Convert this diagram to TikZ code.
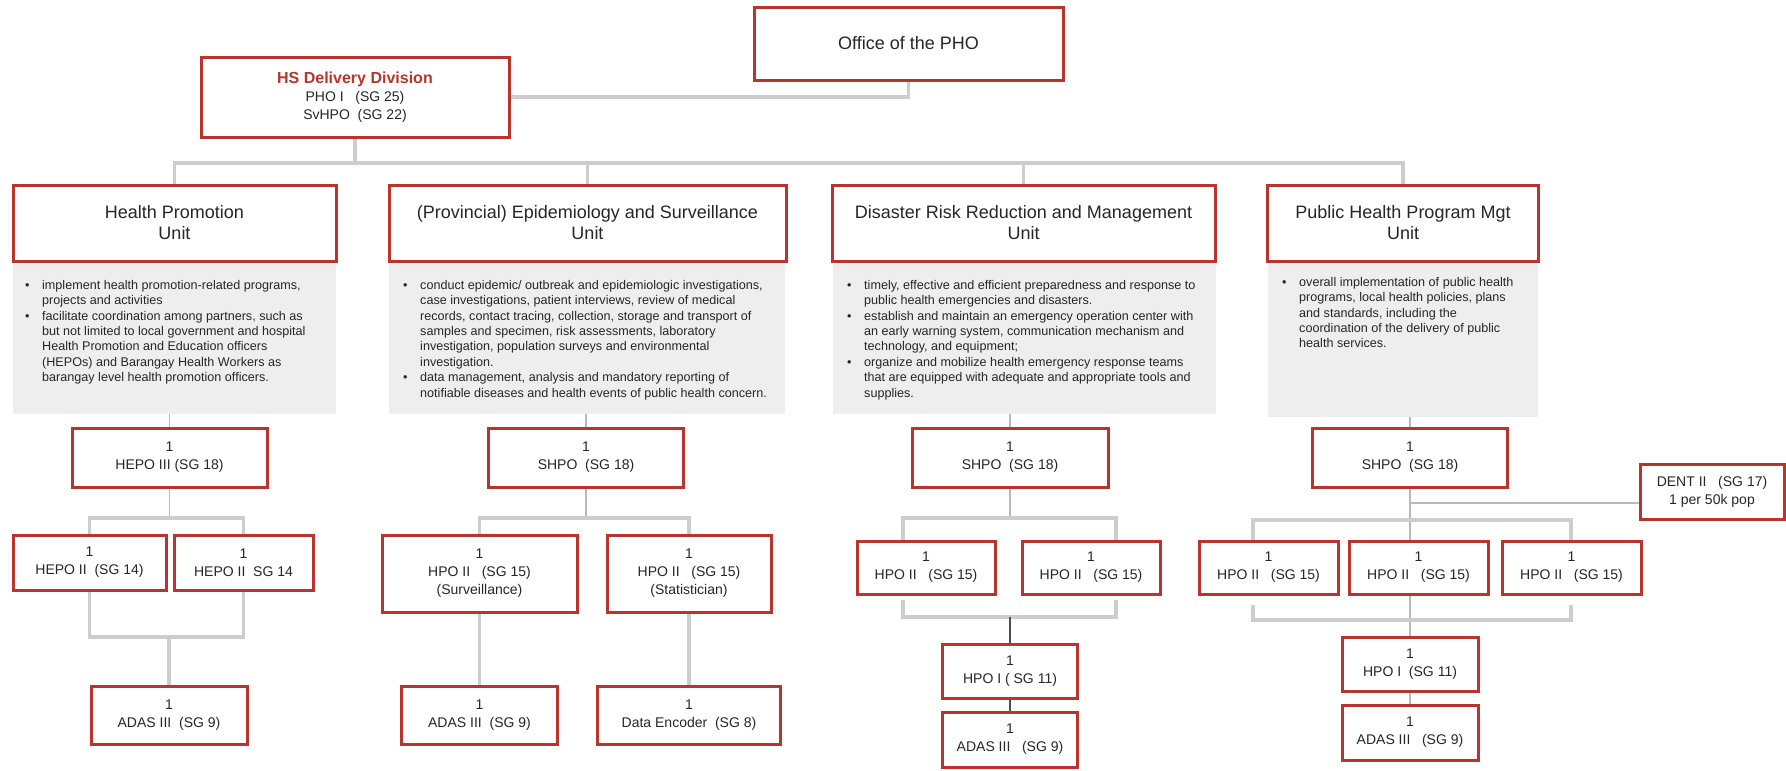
\documentclass[tikz,border=0pt]{standalone}
\usepackage{fontspec}
\setmainfont{Liberation Sans}
\usetikzlibrary{backgrounds}

\definecolor{boxred}{RGB}{184,52,44}
\definecolor{linegray}{RGB}{205,205,205}
\definecolor{thingray}{RGB}{185,185,185}
\definecolor{descfill}{RGB}{238,238,238}
\definecolor{inkc}{RGB}{38,38,38}

% bullet and hanging indent for the duty lists
\newcommand{\dutybullet}{\makebox[17pt][l]{\textbullet}}
\newcommand{\dutycont}{\hspace*{17pt}}

\begin{document}
\begin{tikzpicture}[x=1pt,y=-1pt,
  redbox/.style={draw=boxred, line width=3pt, fill=white, align=center,
    inner sep=0pt, text=inkc},
  bigtext/.style={font=\fontsize{18}{21}\selectfont},
  smalltext/.style={font=\fontsize{14}{18}\selectfont},
  descbox/.style={fill=descfill, inner sep=0pt, anchor=north west},
  desctext/.style={anchor=north west, inner sep=0pt, align=left, text=inkc,
    font=\fontsize{12.6}{15.4}\selectfont},
  trunk/.style={draw=linegray, line width=3.5pt},
  twig/.style={draw=thingray, line width=1.2pt},
  darktwig/.style={draw=black!70, line width=1.2pt}
]
\useasboundingbox (0,0) rectangle (1786,771);

% ---- top level
\node[redbox, bigtext, minimum width=309pt, minimum height=73pt] (office) at (908.5,43.5) {Office of the PHO};
\node[redbox, smalltext, minimum width=308pt, minimum height=80pt] (hs) at (355,97)
  {{\fontsize{16}{18}\selectfont\bfseries\color{boxred}HS Delivery Division}\\PHO I~~~(SG 25)\\SvHPO~~(SG 22)};

% ---- units
\node[redbox, bigtext, minimum width=323pt, minimum height=76pt] (u1) at (174.5,223) {Health Promotion\\Unit};
\node[redbox, bigtext, minimum width=397pt, minimum height=76pt] (u2) at (587.5,223) {(Provincial) Epidemiology and Surveillance\\Unit};
\node[redbox, bigtext, minimum width=383pt, minimum height=76pt] (u3) at (1023.5,223) {Disaster Risk Reduction and Management\\Unit};
\node[redbox, bigtext, minimum width=271pt, minimum height=76pt] (u4) at (1403,223) {Public Health Program Mgt\\Unit};

% ---- duty panels
\node[descbox, minimum width=323pt, minimum height=151pt] (g1) at (13,263) {};
\node[descbox, minimum width=396pt, minimum height=151pt] (g2) at (389,263) {};
\node[descbox, minimum width=383pt, minimum height=151pt] (g3) at (833,263) {};
\node[descbox, minimum width=270pt, minimum height=154pt] (g4) at (1268,263) {};

\node[desctext] (t1) at (25,280) {%
\dutybullet implement health promotion-related programs,\\
\dutycont projects and activities\\
\dutybullet facilitate coordination among partners, such as\\
\dutycont but not limited to local government and hospital\\
\dutycont Health Promotion and Education officers\\
\dutycont (HEPOs) and Barangay Health Workers as\\
\dutycont barangay level health promotion officers.};

\node[desctext] (t2) at (403,280) {%
\dutybullet conduct epidemic/ outbreak and epidemiologic investigations,\\
\dutycont case investigations, patient interviews, review of medical\\
\dutycont records, contact tracing, collection, storage and transport of\\
\dutycont samples and specimen, risk assessments, laboratory\\
\dutycont investigation, population surveys and environmental\\
\dutycont investigation.\\
\dutybullet data management, analysis and mandatory reporting of\\
\dutycont notifiable diseases and health events of public health concern.};

\node[desctext] (t3) at (847,280) {%
\dutybullet timely, effective and efficient preparedness and response to\\
\dutycont public health emergencies and disasters.\\
\dutybullet establish and maintain an emergency operation center with\\
\dutycont an early warning system, communication mechanism and\\
\dutycont technology, and equipment;\\
\dutybullet organize and mobilize health emergency response teams\\
\dutycont that are equipped with adequate and appropriate tools and\\
\dutycont supplies.};

\node[desctext] (t4) at (1282,277) {%
\dutybullet overall implementation of public health\\
\dutycont programs, local health policies, plans\\
\dutycont and standards, including the\\
\dutycont coordination of the delivery of public\\
\dutycont health services.};

% ---- Health Promotion staff
\node[redbox, smalltext, minimum width=195pt, minimum height=59pt] (b1) at (169.5,457.5) {1\\HEPO III (SG 18)};
\node[redbox, smalltext, minimum width=153pt, minimum height=55pt] (b2) at (89.5,562.5) {1\\HEPO II~~(SG 14)};
\node[redbox, smalltext, minimum width=139pt, minimum height=55pt] (b3) at (243.5,562.5) {1\\HEPO II~~SG 14};
\node[redbox, smalltext, minimum width=156pt, minimum height=58pt] (b4) at (169,715) {1\\ADAS III~~(SG 9)};

% ---- Epidemiology staff
\node[redbox, smalltext, minimum width=195pt, minimum height=59pt] (b5) at (586,457.5) {1\\SHPO~~(SG 18)};
\node[redbox, smalltext, minimum width=195pt, minimum height=77pt] (b6) at (479.5,573.5) {1\\HPO II~~~(SG 15)\\(Surveillance)};
\node[redbox, smalltext, minimum width=164pt, minimum height=77pt] (b7) at (689,573.5) {1\\HPO II~~~(SG 15)\\(Statistician)};
\node[redbox, smalltext, minimum width=156pt, minimum height=58pt] (b8) at (479.5,715) {1\\ADAS III~~(SG 9)};
\node[redbox, smalltext, minimum width=183pt, minimum height=58pt] (b9) at (689,715) {1\\Data Encoder~~(SG 8)};

% ---- DRRM staff
\node[redbox, smalltext, minimum width=196pt, minimum height=59pt] (b10) at (1010,457.5) {1\\SHPO~~(SG 18)};
\node[redbox, smalltext, minimum width=138pt, minimum height=53pt] (b11) at (926,567.5) {1\\HPO II~~~(SG 15)};
\node[redbox, smalltext, minimum width=138pt, minimum height=53pt] (b12) at (1091,567.5) {1\\HPO II~~~(SG 15)};
\node[redbox, smalltext, minimum width=135pt, minimum height=54pt] (b13) at (1010,671) {1\\HPO I ( SG 11)};
\node[redbox, smalltext, minimum width=135pt, minimum height=55pt] (b14) at (1010,739.5) {1\\ADAS III~~~(SG 9)};

% ---- Public Health Program Mgt staff
\node[redbox, smalltext, minimum width=195pt, minimum height=59pt] (b15) at (1410,457.5) {1\\SHPO~~(SG 18)};
\node[redbox, smalltext, minimum width=144pt, minimum height=55pt] (b16) at (1712,491.5) {DENT II~~~(SG 17)\\1 per 50k pop};
\node[redbox, smalltext, minimum width=139pt, minimum height=53pt] (b17) at (1268.5,567.5) {1\\HPO II~~~(SG 15)};
\node[redbox, smalltext, minimum width=139pt, minimum height=53pt] (b18) at (1418.5,567.5) {1\\HPO II~~~(SG 15)};
\node[redbox, smalltext, minimum width=139pt, minimum height=53pt] (b19) at (1571.5,567.5) {1\\HPO II~~~(SG 15)};
\node[redbox, smalltext, minimum width=136pt, minimum height=54pt] (b20) at (1410,664) {1\\HPO I~~(SG 11)};
\node[redbox, smalltext, minimum width=136pt, minimum height=55pt] (b21) at (1410,732.5) {1\\ADAS III~~~(SG 9)};

% ---- rows and columns used by the connectors
\coordinate (busy) at (0,163);
\coordinate (rowA) at (0,518);
\coordinate (rowB) at (0,637);
\coordinate (dgap) at (0,600);
\coordinate (dlow) at (0,617);
\coordinate (d1) at (903,0);
\coordinate (d2) at (1116,0);
\coordinate (dentrow) at (0,503);
\coordinate (prow) at (0,520);
\coordinate (pgap) at (0,605);
\coordinate (plow) at (0,620);
\coordinate (p1) at (1253,0);
\coordinate (p2) at (1571,0);

\begin{scope}[on background layer]
  % division to office and to the unit bus
  \draw[trunk] (hs.east) -- (hs.east -| office.south) -- (office.south);
  \draw[trunk] (hs.south) -- (hs.south |- busy);
  \draw[trunk] (u1.north) -- (u1.north |- busy) -- (u4.north |- busy) -- (u4.north);
  \draw[trunk] (u2.north |- busy) -- (u2.north);
  \draw[trunk] (u3.north |- busy) -- (u3.north);

  % duty panels to unit heads
  \draw[twig] (b1.north |- g1.south) -- (b1.north);
  \draw[twig] (b5.north |- g2.south) -- (b5.north);
  \draw[twig] (b10.north |- g3.south) -- (b10.north);
  \draw[twig] (b15.north |- g4.south) -- (b15.north);

  % Health Promotion
  \draw[twig] (b1.south) -- (b1.south |- rowA);
  \draw[trunk] (b2.north) -- (b2.north |- rowA) -- (b3.north |- rowA) -- (b3.north);
  \draw[trunk] (b2.south) -- (b2.south |- rowB) -- (b3.south |- rowB) -- (b3.south);
  \draw[trunk] (b4.north |- rowB) -- (b4.north);

  % Epidemiology and Surveillance
  \draw[twig] (b5.south) -- (b5.south |- rowA);
  \draw[trunk] (b6.north) -- (b6.north |- rowA) -- (b7.north |- rowA) -- (b7.north);
  \draw[trunk] (b6.south) -- (b8.north);
  \draw[trunk] (b7.south) -- (b9.north);

  % DRRM
  \draw[twig] (b10.south) -- (b10.south |- rowA);
  \draw[trunk] (d1 |- b11.north) -- (d1 |- rowA) -- (d2 |- rowA) -- (d2 |- b12.north);
  \draw[trunk] (d1 |- dgap) -- (d1 |- dlow) -- (d2 |- dlow) -- (d2 |- dgap);
  \draw[darktwig] (b13.north |- dlow) -- (b13.north);
  \draw[darktwig] (b13.south) -- (b14.north);

  % Public Health Program Mgt
  \draw[twig] (b15.south) -- (b20.north);
  \draw[twig] (b15.south |- dentrow) -- (b16.west |- dentrow);
  \draw[trunk] (p1 |- b17.north) -- (p1 |- prow) -- (p2 |- prow) -- (p2 |- b19.north);
  \draw[trunk] (p1 |- pgap) -- (p1 |- plow) -- (p2 |- plow) -- (p2 |- pgap);
  \draw[twig] (b20.south) -- (b21.north);
\end{scope}
\end{tikzpicture}
\end{document}
